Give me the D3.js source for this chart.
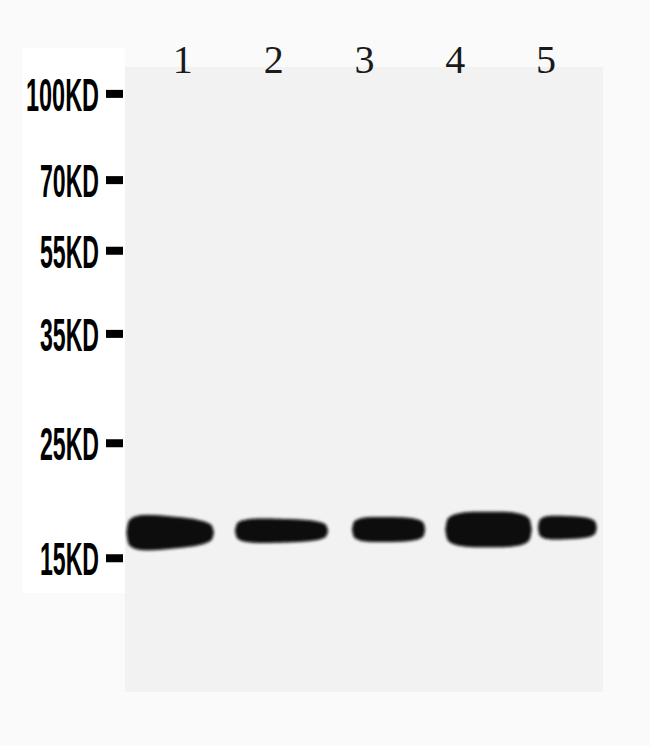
<!DOCTYPE html>
<html>
<head>
<meta charset="utf-8">
<script src="https://cdn.jsdelivr.net/npm/d3@7"></script>
<style>
body { margin: 0; background: #fafafa; }
</style>
</head>
<body>
<div id="blot"></div>
<script>
// lanes and ladder
var lanes = ["1", "2", "3", "4", "5"];
var markerLabels = ["100KD", "70KD", "55KD", "35KD", "25KD", "15KD"];
// migration of each marker, fraction of membrane height
var markerMigration = [0.043, 0.181, 0.294, 0.427, 0.602, 0.786];
// bands (one per lane)
var bandMigration = [0.745, 0.742, 0.740, 0.740, 0.737];
var bandStart = [0.003, 0.230, 0.475, 0.670, 0.864];   // fraction of membrane width
var bandEnd = [0.186, 0.425, 0.628, 0.851, 0.987];
var bandThickness = [0.052, 0.038, 0.040, 0.057, 0.037]; // fraction of membrane height
var bandSkew = [0.25, 0.12, 0.05, 0.0, 0.12];

var width = 650, height = 746;
var membraneLeft = 125, membraneRight = 603, membraneTop = 67, membraneBottom = 692;

var svg = d3.select("#blot").append("svg")
    .attr("width", width)
    .attr("height", height);

var defs = svg.append("defs");
defs.append("filter")
    .attr("id", "soft")
    .attr("x", "-20%").attr("y", "-50%")
    .attr("width", "140%").attr("height", "200%")
    .append("feGaussianBlur")
    .attr("stdDeviation", 1.7);

// scales
x = d3.scaleLinear().domain([0, 1]).range([membraneLeft, membraneRight]);
y = d3.scaleLinear().domain([0, 1]).range([membraneTop, membraneBottom]);
laneX = d3.scalePoint().domain(lanes).range([x(0.121), x(0.881)]);

// white label panel
svg.append("rect")
    .attr("x", 22)
    .attr("y", 48)
    .attr("width", membraneLeft - 22)
    .attr("height", 545)
    .style("fill", "#ffffff");

// membrane
svg.append("rect")
    .attr("x", membraneLeft)
    .attr("y", membraneTop)
    .attr("width", membraneRight - membraneLeft)
    .attr("height", membraneBottom - membraneTop)
    .style("fill", "#f2f2f2");

// lane numbers
svg.selectAll("text.lane")
    .data(lanes).enter()
    .append("text")
    .attr("class", "lane")
    .text((d) => {return d})
    .attr("x", (d) => {return laneX(d)})
    .attr("y", 73)
    .attr("text-anchor", "middle")
    .style("font-family", "'Liberation Serif', 'DejaVu Serif', serif")
    .style("font-size", "40px")
    .style("fill", "#1a1a1a");

// marker ticks
svg.selectAll("rect.tick")
    .data(markerMigration).enter()
    .append("rect")
    .attr("class", "tick")
    .attr("x", 106)
    .attr("y", (d) => {return y(d) - 4})
    .attr("width", 17)
    .attr("height", 8)
    .style("fill", "#000");

// marker labels
svg.selectAll("text.marker")
    .data(markerLabels).enter()
    .append("text")
    .attr("class", "marker")
    .text((d) => {return d})
    .attr("x", 99)
    .attr("y", (d, i) => {return y(markerMigration[i]) + 17})
    .attr("text-anchor", "end")
    .attr("textLength", (d) => {return d.length == 5 ? 73 : 59})
    .attr("lengthAdjust", "spacingAndGlyphs")
    .style("font-family", "'Liberation Sans Narrow', 'Liberation Sans', Arial, sans-serif")
    .style("font-weight", "bold")
    .style("font-size", "47px")
    .style("fill", "#000");

// bands
var steps = d3.range(0, 61).map((k) => {return k / 60});
function bandPath(i) {
    var x0 = x(bandStart[i]), x1 = x(bandEnd[i]);
    var cy = y(bandMigration[i]);
    var half = (y(bandThickness[i]) - y(0)) / 2;
    var pts = steps.map((t) => {
        var u = t * 2 - 1;
        var base = Math.pow(1 - Math.pow(Math.abs(u), 3.4), 1 / 3.4);
        var h = half * base * (1 - bandSkew[i] * u);
        return {px: x0 + t * (x1 - x0), top: cy - h, bottom: cy + h};
    });
    return d3.area()
        .x((d) => {return d.px})
        .y0((d) => {return d.top})
        .y1((d) => {return d.bottom})
        .curve(d3.curveBasis)(pts);
}
svg.selectAll("path.band")
    .data(lanes).enter()
    .append("path")
    .attr("class", "band")
    .attr("d", (d, i) => {return bandPath(i)})
    .attr("filter", "url(#soft)")
    .style("fill", "#080808");
</script>
</body>
</html>
